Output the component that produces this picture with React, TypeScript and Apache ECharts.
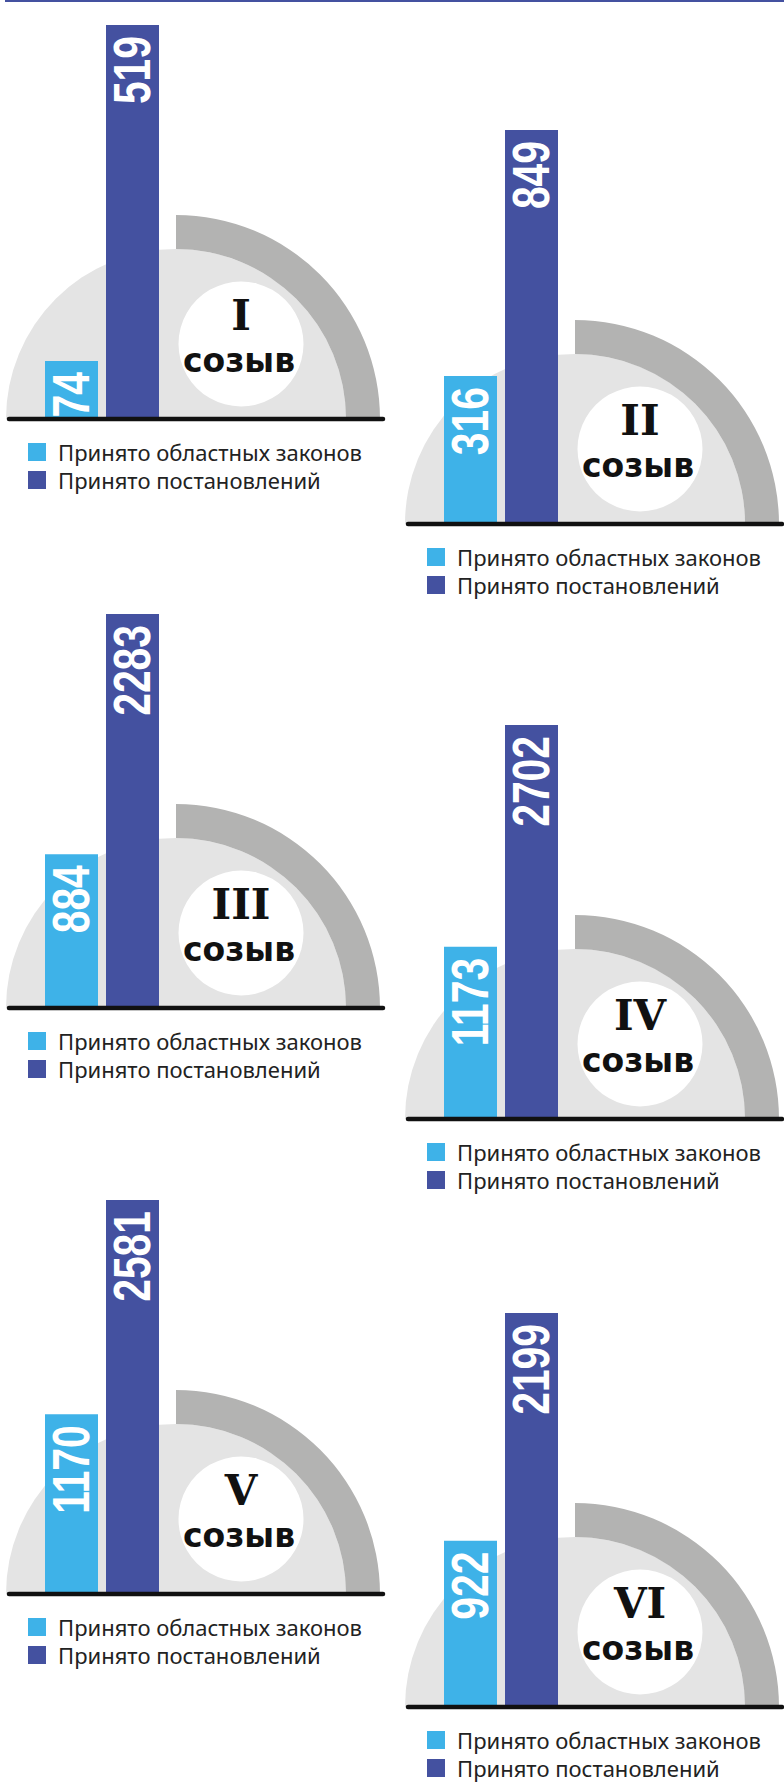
import React, { useEffect, useRef } from "react";
import * as echarts from "echarts";

// ---- data ----
const convocations = ["I", "II", "III", "IV", "V", "VI"];
const lawsAdopted = [74, 316, 884, 1173, 1170, 922];
const resolutionsAdopted = [519, 849, 2283, 2702, 2581, 2199];
const seriesNames = ["Принято областных законов", "Принято постановлений"];
const convocationWord = "созыв";

// ---- layout / style ----
const W = 784;
const H = 1783;
const baselines = [419, 524, 1008, 1119, 1594, 1707];
const offsetsX = [0, 399, 0, 399, 0, 399];
const BAR_H = 392;
const BAR_W = 53;
const BAR_OFFSET = 30.5; // half of bar width + half gap
const PURPLE = "#4451A0";
const BLUE = "#3EB2E8";
const LIGHT = "#E4E4E4";
const RING = "#B3B3B2";

export default function App() {
  const ref = useRef<HTMLDivElement>(null);
  useEffect(() => {
    if (!ref.current) return;
    const chart = echarts.init(ref.current, undefined, { renderer: "svg", width: W, height: H });

    const grids: any[] = [];
    const xAxes: any[] = [];
    const yAxes: any[] = [];
    const series: any[] = [];
    const legends: any[] = [];
    const graphics: any[] = [
      { type: "rect", shape: { x: 5, y: 0, width: W - 5, height: 2 }, style: { fill: PURPLE }, z: 0 },
    ];

    convocations.forEach((c, i) => {
      const ox = offsetsX[i];
      const by = baselines[i];
      const barBottom = by - 2;
      grids.push({ left: 45 + ox, width: 114, top: barBottom - BAR_H, height: BAR_H });
      xAxes.push({ type: "category", gridIndex: i, data: [c], show: false });
      yAxes.push({ type: "value", gridIndex: i, min: 0, max: resolutionsAdopted[i], show: false });
      series.push({
        type: "bar",
        name: seriesNames[0],
        xAxisIndex: i,
        yAxisIndex: i,
        data: [lawsAdopted[i]],
        barWidth: BAR_W,
        barGap: "15.1%",
        itemStyle: { color: BLUE },
        z: 3,
      });
      series.push({
        type: "bar",
        name: seriesNames[1],
        xAxisIndex: i,
        yAxisIndex: i,
        data: [resolutionsAdopted[i]],
        barWidth: BAR_W,
        itemStyle: { color: PURPLE },
        z: 3,
      });
      // value labels: rotated, condensed, drawn through the axes' own coordinates
      series.push({
        type: "custom",
        name: "values-" + c,
        xAxisIndex: i,
        yAxisIndex: i,
        z: 5,
        silent: true,
        data: [
          [0, lawsAdopted[i], 0],
          [0, resolutionsAdopted[i], 1],
        ],
        renderItem: (params: any, api: any) => {
          const v = api.value(1);
          const k = api.value(2);
          const p = api.coord([0, v]);
          return {
            type: "text",
            x: p[0] + (k === 0 ? -BAR_OFFSET : BAR_OFFSET),
            y: p[1] + 11,
            rotation: Math.PI / 2,
            scaleX: 0.8,
            style: {
              text: String(v),
              align: "right",
              verticalAlign: "middle",
              fill: "#ffffff",
              fontFamily: '"Liberation Sans", Arial, sans-serif',
              fontWeight: "bold",
              fontSize: 51,
            },
          };
        },
      });
      legends.push({
        left: 28 + ox,
        top: by + 22,
        padding: 0,
        orient: "vertical",
        icon: "rect",
        itemWidth: 18,
        itemHeight: 18,
        itemGap: 6,
        selectedMode: false,
        data: seriesNames,
        textStyle: {
          fontFamily: '"Noto Sans", sans-serif',
          fontSize: 22,
          color: "#222222",
          padding: [0, 0, 0, 7],
        },
      });

      const cx = 176 + ox;
      graphics.push({
        type: "sector",
        shape: { cx, cy: by, r0: 0, r: 170, startAngle: Math.PI, endAngle: 2 * Math.PI },
        style: { fill: LIGHT },
        z: 0,
      });
      graphics.push({
        type: "sector",
        shape: { cx, cy: by, r0: 170, r: 204, startAngle: 1.5 * Math.PI, endAngle: 2 * Math.PI },
        style: { fill: RING },
        z: 0,
      });
      graphics.push({
        type: "circle",
        shape: { cx: cx + 65, cy: by - 75, r: 62.5 },
        style: { fill: "#ffffff" },
        z: 1,
      });
      graphics.push({
        type: "text",
        x: cx + 65,
        y: by - 75 - 29,
        style: {
          text: c,
          align: "center",
          verticalAlign: "middle",
          fontFamily: '"DejaVu Serif", serif',
          fontWeight: "bold",
          fontSize: 42,
          fill: "#111111",
        },
        z: 2,
      });
      graphics.push({
        type: "text",
        x: cx + 63,
        y: by - 75 + 16,
        style: {
          text: convocationWord,
          align: "center",
          verticalAlign: "middle",
          fontFamily: '"DejaVu Sans", sans-serif',
          fontWeight: "bold",
          fontSize: 33,
          fill: "#111111",
        },
        z: 2,
      });
      graphics.push({
        type: "line",
        shape: { x1: 9 + ox, y1: by, x2: 383 + ox, y2: by },
        style: { stroke: "#111111", lineWidth: 4.5, lineCap: "round" },
        z: 10,
      });
    });

    chart.setOption({
      animation: false,
      grid: grids,
      xAxis: xAxes,
      yAxis: yAxes,
      legend: legends,
      series,
      graphic: { elements: graphics },
    });
    return () => chart.dispose();
  }, []);
  return (
    <div
      ref={ref}
      style={{ position: "absolute", left: 0, top: 0, width: W, height: H, background: "#ffffff" }}
    />
  );
}
